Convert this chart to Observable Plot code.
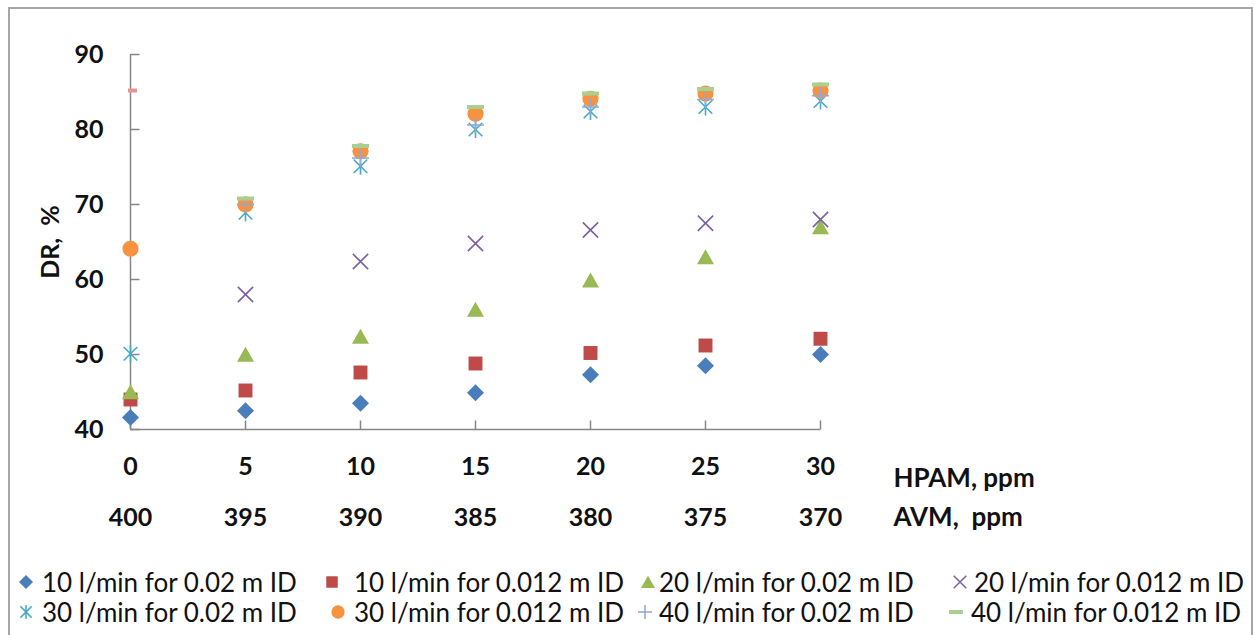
<!DOCTYPE html>
<html><head><meta charset="utf-8">
<script src="https://cdn.jsdelivr.net/npm/d3@7"></script>
<script src="https://cdn.jsdelivr.net/npm/@observablehq/plot@0.6"></script>
<style>
body{margin:0;background:#fff;font-family:Lato,"Open Sans",sans-serif;width:1255px;height:635px;overflow:hidden;position:relative;}
#frame{position:absolute;left:8px;top:7px;width:1245px;height:700px;border:2px solid #a6a6a6;box-sizing:border-box;}
#chart{position:absolute;left:0;top:0;}
.leg{position:absolute;font-size:26px;color:#111;white-space:pre;line-height:30px;height:30px;}
</style></head><body>
<div id="frame"></div>
<div id="chart"></div>
<div id="legend"></div>
<script>
// ---- data ----
const hpam = [0, 5, 10, 15, 20, 25, 30];
const avm = [400, 395, 390, 385, 380, 375, 370];
const yTicks = [40, 50, 60, 70, 80, 90];
const seriesNames = [
  "10 l/min for 0.02 m ID", "10 l/min for 0.012 m ID",
  "20 l/min for 0.02 m ID", "20 l/min for 0.012 m ID",
  "30 l/min for 0.02 m ID", "30 l/min for 0.012 m ID",
  "40 l/min for 0.02 m ID", "40 l/min for 0.012 m ID"
];
const dr10_002  = [41.6, 42.5, 43.5, 44.9, 47.3, 48.5, 50.0];
const dr10_0012 = [44.0, 45.2, 47.6, 48.8, 50.2, 51.2, 52.1];
const dr20_002  = [45.0, 50.0, 52.4, 56.0, 59.9, 63.0, 67.0];
const dr20_0012 = [null, 58.0, 62.4, 64.8, 66.6, 67.5, 68.0];
const dr30_002  = [50.1, 68.9, 75.1, 80.0, 82.4, 83.0, 83.8];
const dr30_0012 = [64.1, 70.0, 77.1, 82.1, 84.1, 84.8, 85.2];
const dr40_002  = [null, 70.0, 76.2, 80.6, 83.0, 84.0, 84.5];
const dr40_0012 = [null, 70.8, 77.8, 83.0, 84.8, 85.4, 86.0];
const strayX = [0];
const strayY = [85.2];

// ---- symbols ----
const sym = f => ({draw(c, size) { f(c, Math.sqrt(size / Math.PI)); }});
const symDiamond = sym((c, r) => { c.moveTo(0, -r); c.lineTo(r, 0); c.lineTo(0, r); c.lineTo(-r, 0); c.closePath(); });
const symSquare = sym((c, r) => { const h = r * 0.82; c.rect(-h, -h, 2 * h, 2 * h); });
const symTriangle = sym((c, r) => { c.moveTo(0, -r * 0.9); c.lineTo(r, r * 0.85); c.lineTo(-r, r * 0.85); c.closePath(); });
const symTimes = sym((c, r) => { const h = r * 0.9; c.moveTo(-h, -h); c.lineTo(h, h); c.moveTo(h, -h); c.lineTo(-h, h); });
const symAster = sym((c, r) => { const h = r * 0.8; c.moveTo(-h, -h); c.lineTo(h, h); c.moveTo(h, -h); c.lineTo(-h, h); c.moveTo(0, -r); c.lineTo(0, r); });
const symCircle = sym((c, r) => { const h = r * 0.95; c.moveTo(h, 0); c.arc(0, 0, h, 0, 2 * Math.PI); });
const symPlus = sym((c, r) => { c.moveTo(-r, 0); c.lineTo(r, 0); c.moveTo(0, -r); c.lineTo(0, r); });
const symDash = sym((c, r) => { c.rect(-r, -2, 2 * r, 4); });
const tickRight = {draw(c) { c.moveTo(0, 0); c.lineTo(9, 0); }};
const tickUp = {draw(c) { c.moveTo(0, 0); c.lineTo(0, -9); }};

const styles = [
  {v: dr10_002,  s: symDiamond,  fill: "#4a7ebb", stroke: "none"},
  {v: dr10_0012, s: symSquare,   fill: "#be4b48", stroke: "none"},
  {v: dr20_002,  s: symTriangle, fill: "#98b954", stroke: "none"},
  {v: dr20_0012, s: symTimes,    fill: "none", stroke: "#7d60a0"},
  {v: dr30_002,  s: symAster,    fill: "none", stroke: "#46aac5"},
  {v: dr30_0012, s: symCircle,   fill: "#f69240", stroke: "none"},
  {v: dr40_002,  s: symPlus,     fill: "none", stroke: "#8ea9db"},
  {v: dr40_0012, s: symDash,     fill: "#a9d08e", stroke: "none"}
];
const rows = vals => hpam.map((x, i) => ({x, y: vals[i]})).filter(d => d.y != null);

const font = "Lato, 'Open Sans', sans-serif";
const chart = Plot.plot({
  width: 1255, height: 545,
  marginLeft: 130, marginRight: 435, marginTop: 54, marginBottom: 116,
  style: {fontFamily: font, background: "transparent", overflow: "visible"},
  x: {domain: [0, 30]},
  y: {domain: [40, 90]},
  marks: [
    Plot.ruleX([0], {y1: 40, y2: 90, stroke: "#868686", strokeWidth: 1.5}),
    Plot.ruleY([40], {x1: 0, x2: 30, stroke: "#868686", strokeWidth: 1.5}),
    Plot.dot(yTicks, {x: 0, y: d => d, symbol: tickRight, stroke: "#868686", strokeWidth: 1.5, r: 5}),
    Plot.dot(hpam, {x: d => d, y: 40, symbol: tickUp, stroke: "#868686", strokeWidth: 1.5, r: 5}),
    Plot.axisY(yTicks, {tickSize: 0, tickPadding: 27, fontSize: 25, fontWeight: "bold", fill: "#111", label: null}),
    Plot.axisX(hpam, {tickSize: 0, tickPadding: 28, fontSize: 25, fontWeight: "bold", fill: "#111", label: null}),
    Plot.text(avm, {x: (d, i) => hpam[i], y: 40, text: d => String(d), dy: 88, fontSize: 25, fontWeight: "bold", fill: "#111"}),
    Plot.text(["HPAM, ppm"], {x: 30, y: 40, dx: 73, dy: 49, textAnchor: "start", fontSize: 26, fontWeight: "bold", fill: "#111"}),
    Plot.text(["AVM,\u00a0 ppm"], {x: 30, y: 40, dx: 73, dy: 88, textAnchor: "start", fontSize: 26, fontWeight: "bold", fill: "#111"}),
    Plot.text(["DR,\u00a0 %"], {frameAnchor: "left", textAnchor: "middle", dx: -80, rotate: -90, fontSize: 25, fontWeight: "bold", fill: "#111"}),
    Plot.dot(strayX.map((x, i) => ({x, y: strayY[i]})), {x: "x", y: "y", dx: 2, symbol: symDash, r: 4.5, fill: "#e89494", stroke: "none"}),
    ...styles.map(st => Plot.dot(rows(st.v), {x: "x", y: "y", symbol: st.s, r: 8.5, fill: st.fill, stroke: st.stroke, strokeWidth: 1.6}))
  ]
});
document.getElementById("chart").appendChild(chart);

// ---- legend ----
const legPos = [
  [26, 42, 582], [332, 354, 582], [648, 659, 582], [960, 974, 582],
  [26, 42, 612], [338, 354, 612], [645, 659, 612], [956, 971, 612]
];
const leg = document.getElementById("legend");
seriesNames.forEach((name, i) => {
  const [mx, tx, cy] = legPos[i];
  const st = styles[i];
  const d = d3.symbol(st.s, Math.PI * 7 * 7)();
  const item = document.createElement("div");
  item.className = "leg";
  item.style.left = tx + "px";
  item.style.top = (cy - 15) + "px";
  item.textContent = name;
  leg.appendChild(item);
  const svg = d3.select(leg).append("svg")
    .attr("width", 20).attr("height", 20)
    .style("position", "absolute").style("left", (mx - 10) + "px").style("top", (cy - 10) + "px");
  svg.append("path").attr("d", d).attr("transform", "translate(10,10)")
    .attr("fill", st.fill).attr("stroke", st.stroke).attr("stroke-width", 1.5);
});
</script>
</body></html>
